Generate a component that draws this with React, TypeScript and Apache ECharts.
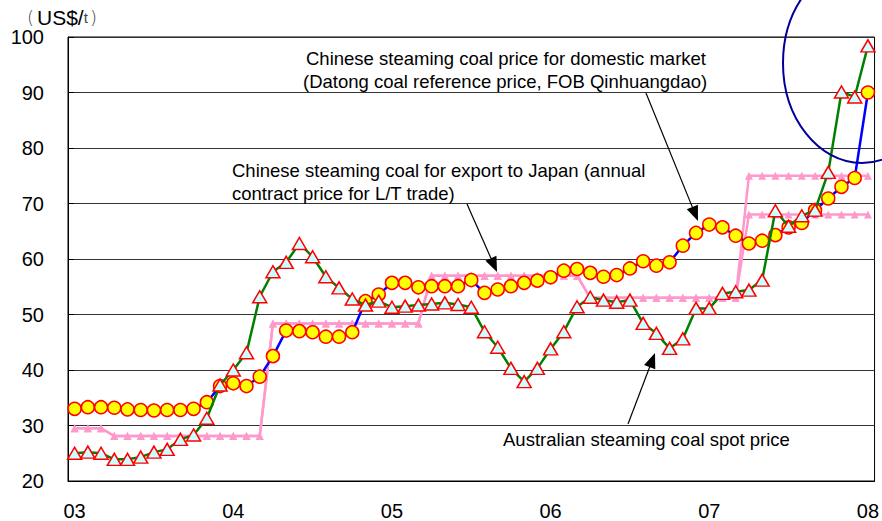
import React, { useEffect, useRef } from "react";
import * as echarts from "echarts";

const yearLabels = ["03", "04", "05", "06", "07", "08"];
const monthLabels = ["01", "02", "03", "04", "05", "06", "07", "08", "09", "10", "11", "12"];

// Chinese steaming coal price for domestic market (Datong, FOB Qinhuangdao)
const domesticPrice = [
  33.0, 33.3, 33.3, 33.2, 32.9, 32.8, 32.7, 32.8, 32.8, 33.0, 34.2, 37.1,
  37.6, 37.1, 38.8, 42.5, 47.1, 47.0, 46.8, 46.0, 46.0, 46.8, 52.4, 53.6,
  55.7, 55.7, 54.9, 55.1, 55.1, 55.1, 56.2, 53.9, 54.5, 55.1, 55.7, 56.1,
  56.7, 57.9, 58.2, 57.5, 56.8, 57.1, 58.3, 59.6, 58.8, 59.4, 62.4, 64.7,
  66.2, 65.7, 64.2, 62.8, 63.3, 64.3, 65.7, 66.5, 68.8, 70.9, 73.0, 74.6,
  90.0,
];

// Australian steaming coal spot price
const australianSpot = [
  25.0, 25.2, 25.0, 23.9, 23.9, 24.3, 25.2, 25.7, 27.5, 28.3, 31.3, 37.3,
  40.0, 43.1, 53.2, 57.7, 59.4, 62.8, 60.4, 56.8, 54.8, 52.8, 51.7, 52.4,
  51.3, 51.5, 51.7, 51.9, 52.1, 51.8, 51.3, 46.9, 44.1, 40.3, 37.9, 40.3,
  43.8, 46.9, 51.4, 53.1, 52.6, 52.2, 52.6, 48.4, 46.6, 43.9, 45.6, 51.1,
  51.1, 53.8, 54.1, 54.4, 56.2, 68.7, 65.9, 67.8, 68.8, 75.6, 90.1, 89.2,
  98.4,
];

// Chinese steaming coal for export to Japan (annual contract, L/T trade) - upper
const exportJapanA = [
  29.5, 29.5, 29.5, 28.1, 28.1, 28.1, 28.1, 28.1, 28.1, 28.1, 28.1, 28.1,
  28.1, 28.1, 28.1, 48.4, 48.4, 48.4, 48.4, 48.4, 48.4, 48.4, 48.4, 48.4,
  48.4, 48.4, 48.4, 57.0, 57.0, 57.0, 57.0, 57.0, 57.0, 57.0, 57.0, 57.0,
  57.0, 57.0, 57.0, 53.0, 53.0, 53.0, 53.0, 53.0, 53.0, 53.0, 53.0, 53.0,
  53.0, 53.0, 53.0, 75.0, 75.0, 75.0, 75.0, 75.0, 75.0, 75.0, 75.0, 75.0,
  75.0,
];

// Chinese steaming coal for export to Japan - lower contract line
const exportJapanB = [
  29.5, 29.5, 29.5, 28.1, 28.1, 28.1, 28.1, 28.1, 28.1, 28.1, 28.1, 28.1,
  28.1, 28.1, 28.1, 48.4, 48.4, 48.4, 48.4, 48.4, 48.4, 48.4, 48.4, 48.4,
  48.4, 48.4, 48.4, 57.0, 57.0, 57.0, 57.0, 57.0, 57.0, 57.0, 57.0, 57.0,
  57.0, 57.0, 57.0, 53.0, 53.0, 53.0, 53.0, 53.0, 53.0, 53.0, 53.0, 53.0,
  53.0, 53.0, 53.0, 68.0, 68.0, 68.0, 68.0, 68.0, 68.0, 68.0, 68.0, 68.0,
  68.0,
];

const categories: string[] = [];
yearLabels.forEach((y) => {
  monthLabels.forEach((m) => {
    if (categories.length < domesticPrice.length) categories.push(`${y}/${m}`);
  });
});

const FONT = "'Liberation Sans', Arial, sans-serif";

function arrow(x1: number, y1: number, x2: number, y2: number) {
  const dx = x2 - x1;
  const dy = y2 - y1;
  const len = Math.sqrt(dx * dx + dy * dy);
  const ux = dx / len;
  const uy = dy / len;
  const hl = 15;
  const hw = 6;
  const bx = x2 - ux * hl;
  const by = y2 - uy * hl;
  return [
    {
      type: "line",
      shape: { x1, y1, x2: bx, y2: by },
      style: { stroke: "#000", lineWidth: 1.2 },
      z: 10,
    },
    {
      type: "polygon",
      shape: {
        points: [
          [x2, y2],
          [bx - uy * hw, by + ux * hw],
          [bx + uy * hw, by - ux * hw],
        ],
      },
      style: { fill: "#000" },
      z: 10,
    },
  ];
}

function label(text: string, x: number, y: number) {
  return {
    type: "text",
    x,
    y,
    z: 10,
    style: {
      text,
      fill: "#000",
      font: `18.5px ${FONT}`,
      verticalAlign: "middle",
      align: "left",
    },
  };
}

export default function App() {
  const ref = useRef<HTMLDivElement>(null);

  useEffect(() => {
    if (!ref.current) return;
    const chart = echarts.init(ref.current, null, { renderer: "svg" });

    const lineBase = {
      type: "line",
      showAllSymbol: true,
      animation: false,
    };

    chart.setOption({
      animation: false,
      backgroundColor: "#fff",
      textStyle: { fontFamily: FONT },
      grid: {
        left: 68,
        right: 2,
        top: 37,
        bottom: 40,
        show: true,
        borderColor: "#000",
        borderWidth: 1,
      },
      xAxis: {
        type: "category",
        data: categories,
        boundaryGap: true,
        axisLine: { lineStyle: { color: "#000", width: 1 } },
        axisTick: { inside: true, length: 6, interval: 0, lineStyle: { color: "#000" } },
        axisLabel: {
          interval: 11,
          margin: 20,
          fontSize: 20,
          color: "#000",
          fontFamily: FONT,
          formatter: (v: string) => v.split("/")[0],
        },
        splitLine: { show: false },
      },
      yAxis: {
        type: "value",
        min: 20,
        max: 100,
        interval: 10,
        axisLine: { show: true, lineStyle: { color: "#000", width: 1 } },
        axisTick: { show: true, inside: true, length: 6, lineStyle: { color: "#000" } },
        axisLabel: { margin: 24, fontSize: 20, color: "#000", fontFamily: FONT },
        splitLine: { show: true, lineStyle: { color: "#333", width: 1 } },
      },
      series: [
        {
          ...lineBase,
          name: "Export to Japan A",
          data: exportJapanA,
          symbol: "triangle",
          symbolSize: 8,
          lineStyle: { color: "#ff99cc", width: 2.5 },
          itemStyle: { color: "#ff99cc", borderWidth: 0 },
          z: 2,
        },
        {
          ...lineBase,
          name: "Export to Japan B",
          data: exportJapanB,
          symbol: "triangle",
          symbolSize: 8,
          lineStyle: { color: "#ff99cc", width: 2.5 },
          itemStyle: { color: "#ff99cc", borderWidth: 0 },
          z: 2,
        },
        {
          ...lineBase,
          name: "Domestic",
          data: domesticPrice,
          symbol: "circle",
          symbolSize: 13,
          lineStyle: { color: "#0000ff", width: 2.5 },
          itemStyle: { color: "#ffff00", borderColor: "#ff0000", borderWidth: 1.5 },
          z: 3,
        },
        {
          ...lineBase,
          name: "Australian spot",
          data: australianSpot,
          symbol: "triangle",
          symbolSize: [14, 12],
          lineStyle: { color: "#008000", width: 2.5 },
          itemStyle: { color: "#ccffff", borderColor: "#ff0000", borderWidth: 1.5 },
          z: 4,
        },
      ],
      graphic: [
        {
          type: "text",
          x: 27,
          y: 17,
          z: 10,
          style: {
            text: "{p|(}US$/{t|t}{p|)}",
            fill: "#000",
            font: `21px ${FONT}`,
            verticalAlign: "middle",
            rich: {
              p: { fontSize: 18, fill: "#444", fontFamily: "'DejaVu Sans'", fontWeight: "lighter", padding: [0, 3, 0, 0] },
              t: { fontSize: 15, fill: "#444", fontFamily: FONT, padding: [0, 2, 0, 0] },
            },
          },
        },
        {
          type: "ellipse",
          shape: { cx: 862, cy: 63, rx: 79, ry: 100 },
          style: { fill: "none", stroke: "#000099", lineWidth: 2 },
          z: 10,
        },
        label("Chinese steaming coal price for domestic market", 306, 58),
        label("(Datong coal reference price, FOB Qinhuangdao)", 303, 81),
        label("Chinese steaming coal for export to Japan (annual", 232, 170),
        label("contract price for L/T trade)", 232, 193),
        label("Australian steaming coal spot price", 503, 439),
        ...arrow(646, 93, 698, 221),
        ...arrow(467, 204, 497, 272),
        ...arrow(628, 424, 655, 353),
      ],
    });

    return () => chart.dispose();
  }, []);

  return (
    <div
      ref={ref}
      style={{ position: "fixed", left: 0, top: 0, width: 882, height: 521 }}
    />
  );
}
